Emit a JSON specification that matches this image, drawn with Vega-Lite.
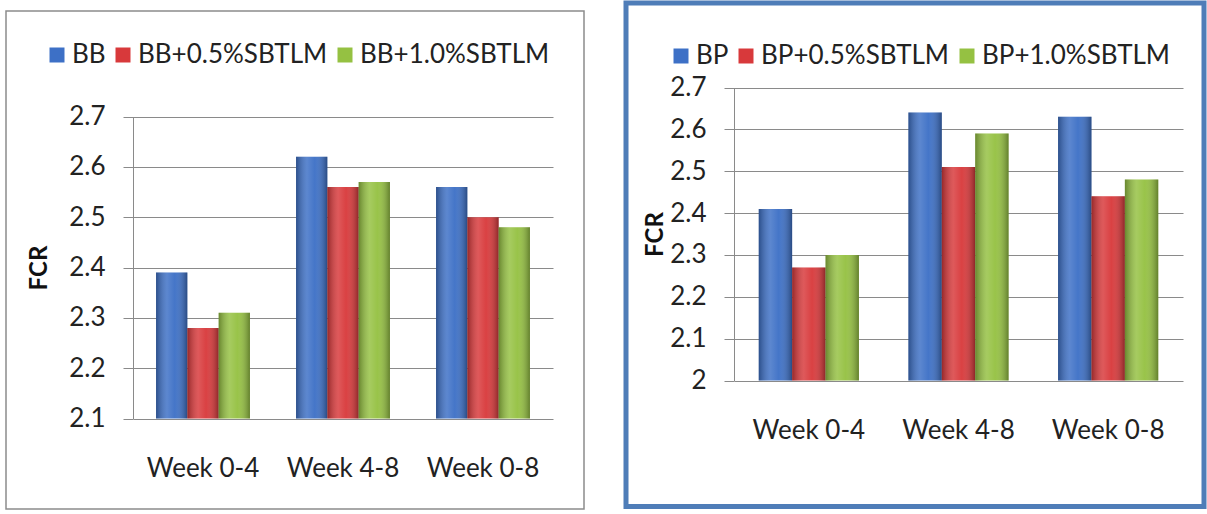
{
  "$schema": "https://vega.github.io/schema/vega-lite/v6.json",
  "padding": {"left": 5, "top": 0, "right": 0, "bottom": 0},
  "background": "white",
  "bounds": "full",
  "spacing": 38,
  "config": {
    "font": "Lato",
    "axis": {"labelFont": "Lato", "labelColor": "#222222", "titleFont": "Lato", "titleColor": "#111111"},
    "legend": {"labelFont": "Lato", "labelColor": "#222222", "labelLimit": 0}
  },
  "datasets": {
    "left": [
      {"period": "Week 0-4", "group": "BB", "fcr": 2.39},
      {"period": "Week 0-4", "group": "BB+0.5%SBTLM", "fcr": 2.28},
      {"period": "Week 0-4", "group": "BB+1.0%SBTLM", "fcr": 2.31},
      {"period": "Week 4-8", "group": "BB", "fcr": 2.62},
      {"period": "Week 4-8", "group": "BB+0.5%SBTLM", "fcr": 2.56},
      {"period": "Week 4-8", "group": "BB+1.0%SBTLM", "fcr": 2.57},
      {"period": "Week 0-8", "group": "BB", "fcr": 2.56},
      {"period": "Week 0-8", "group": "BB+0.5%SBTLM", "fcr": 2.50},
      {"period": "Week 0-8", "group": "BB+1.0%SBTLM", "fcr": 2.48}
    ],
    "right": [
      {"period": "Week 0-4", "group": "BP", "fcr": 2.41},
      {"period": "Week 0-4", "group": "BP+0.5%SBTLM", "fcr": 2.27},
      {"period": "Week 0-4", "group": "BP+1.0%SBTLM", "fcr": 2.30},
      {"period": "Week 4-8", "group": "BP", "fcr": 2.64},
      {"period": "Week 4-8", "group": "BP+0.5%SBTLM", "fcr": 2.51},
      {"period": "Week 4-8", "group": "BP+1.0%SBTLM", "fcr": 2.59},
      {"period": "Week 0-8", "group": "BP", "fcr": 2.63},
      {"period": "Week 0-8", "group": "BP+0.5%SBTLM", "fcr": 2.44},
      {"period": "Week 0-8", "group": "BP+1.0%SBTLM", "fcr": 2.48}
    ],
    "spacer": [{"a": 1}]
  },
  "resolve": {"scale": {"color": "independent", "x": "independent", "y": "independent"}, "legend": {"color": "independent"}},
  "hconcat": [
    {
      "spacing": 0,
      "bounds": "full",
      "resolve": {"scale": {"color": "independent", "x": "independent", "y": "independent"}},
      "vconcat": [
        {
          "width": 578,
          "height": 7,
          "data": {"name": "spacer"},
          "view": {"stroke": null},
          "mark": {"type": "point", "opacity": 0},
          "encoding": {}
        },
        {
          "width": 578,
          "height": 498,
          "view": {"stroke": "#8c8c8c", "strokeWidth": 1.5, "fill": "white"},
          "data": {"name": "left"},
          "encoding": {
            "x": {
              "field": "period", "type": "nominal", "sort": ["Week 0-4", "Week 4-8", "Week 0-8"],
              "scale": {"range": [127, 547], "paddingInner": 0.33, "paddingOuter": 0.165},
              "axis": {"orient": "bottom", "offset": -90.5, "domain": false, "ticks": false, "labelPadding": 37, "labelFontSize": 26, "labelAngle": 0, "title": null, "grid": false}
            },
            "y": {
              "field": "fcr", "type": "quantitative",
              "scale": {"domain": [2.1, 2.7], "range": [407.5, 105.5], "zero": false, "nice": false},
              "axis": {
                "values": [2.1, 2.2, 2.3, 2.4, 2.5, 2.6, 2.7], "format": "~g", "offset": -127,
                "grid": true, "gridColor": "#8a8a8a", "gridWidth": 1, "gridOpacity": 1,
                "domainColor": "#8a8a8a", "tickColor": "#8a8a8a", "tickSize": 10,
                "labelPadding": 18, "labelFontSize": 26,
                "title": "FCR", "titleFontSize": 24, "titleFontWeight": "bold", "titlePadding": 17
              }
            },
            "y2": {"datum": 2.1},
            "color": {
              "field": "group", "type": "nominal",
              "scale": {"domain": ["BB", "BB+0.5%SBTLM", "BB+1.0%SBTLM"], "range": ["#3D70C6", "#D8393B", "#95C142"]},
              "legend": {"orient": "none", "legendX": 38, "legendY": 31, "direction": "horizontal", "title": null, "symbolType": "square", "symbolSize": 225, "symbolStrokeWidth": 0, "symbolOpacity": 1, "labelFontSize": 26, "labelOffset": 2, "columnPadding": 4, "padding": 0, "labelLimit": 0}
            }
          },
          "layer": [
            {"transform": [{"filter": "datum.group === 'BB'"}], "mark": {"type": "bar", "clip": false, "width": 31.3, "xOffset": -31.3}},
            {"transform": [{"filter": "datum.group === 'BB+0.5%SBTLM'"}], "mark": {"type": "bar", "clip": false, "width": 31.3, "xOffset": 0}},
            {"transform": [{"filter": "datum.group === 'BB+1.0%SBTLM'"}], "mark": {"type": "bar", "clip": false, "width": 31.3, "xOffset": 31.3}},
            {"transform": [{"filter": "datum.group === 'BB'"}], "encoding": {"color": {"value": null}}, "mark": {"type": "bar", "clip": false, "width": 31.3, "xOffset": -31.3, "fill": {"gradient": "linear", "x1": 0, "y1": 0, "x2": 1, "y2": 0, "stops": [{"offset": 0, "color": "rgba(0,0,0,0.3)"}, {"offset": 0.35, "color": "rgba(255,255,255,0.16)"}, {"offset": 0.6, "color": "rgba(255,255,255,0.04)"}, {"offset": 1, "color": "rgba(0,0,0,0.34)"}]}}},
            {"transform": [{"filter": "datum.group === 'BB+0.5%SBTLM'"}], "encoding": {"color": {"value": null}}, "mark": {"type": "bar", "clip": false, "width": 31.3, "xOffset": 0, "fill": {"gradient": "linear", "x1": 0, "y1": 0, "x2": 1, "y2": 0, "stops": [{"offset": 0, "color": "rgba(0,0,0,0.3)"}, {"offset": 0.35, "color": "rgba(255,255,255,0.16)"}, {"offset": 0.6, "color": "rgba(255,255,255,0.04)"}, {"offset": 1, "color": "rgba(0,0,0,0.34)"}]}}},
            {"transform": [{"filter": "datum.group === 'BB+1.0%SBTLM'"}], "encoding": {"color": {"value": null}}, "mark": {"type": "bar", "clip": false, "width": 31.3, "xOffset": 31.3, "fill": {"gradient": "linear", "x1": 0, "y1": 0, "x2": 1, "y2": 0, "stops": [{"offset": 0, "color": "rgba(0,0,0,0.3)"}, {"offset": 0.35, "color": "rgba(255,255,255,0.16)"}, {"offset": 0.6, "color": "rgba(255,255,255,0.04)"}, {"offset": 1, "color": "rgba(0,0,0,0.34)"}]}}}
          ]
        }
      ]
    },
    {
      "width": 578,
      "height": 503.5,
      "view": {"stroke": "#4F7DB8", "strokeWidth": 5, "fill": "white"},
      "data": {"name": "right"},
      "encoding": {
        "x": {
          "field": "period", "type": "nominal", "sort": ["Week 0-4", "Week 4-8", "Week 0-8"],
          "scale": {"range": [108, 557], "paddingInner": 0.33, "paddingOuter": 0.165},
          "axis": {"orient": "bottom", "offset": -126, "domain": false, "ticks": false, "labelPadding": 37, "labelFontSize": 26, "labelAngle": 0, "title": null, "grid": false}
        },
        "y": {
          "field": "fcr", "type": "quantitative",
          "scale": {"domain": [2, 2.7], "range": [377.5, 84.5], "zero": false, "nice": false},
          "axis": {
            "values": [2, 2.1, 2.2, 2.3, 2.4, 2.5, 2.6, 2.7], "format": "~g", "offset": -108,
            "grid": true, "gridColor": "#8a8a8a", "gridWidth": 1, "gridOpacity": 1,
            "domainColor": "#8a8a8a", "tickColor": "#8a8a8a", "tickSize": 10,
            "labelPadding": 18, "labelFontSize": 26,
            "title": "FCR", "titleFontSize": 24, "titleFontWeight": "bold", "titlePadding": 2
          }
        },
        "y2": {"datum": 2},
        "color": {
          "field": "group", "type": "nominal",
          "scale": {"domain": ["BP", "BP+0.5%SBTLM", "BP+1.0%SBTLM"], "range": ["#3D70C6", "#D8393B", "#95C142"]},
          "legend": {"orient": "none", "legendX": 42, "legendY": 40, "direction": "horizontal", "title": null, "symbolType": "square", "symbolSize": 225, "symbolStrokeWidth": 0, "symbolOpacity": 1, "labelFontSize": 26, "labelOffset": 2, "columnPadding": 4, "padding": 0, "labelLimit": 0}
        }
      },
      "layer": [
        {"transform": [{"filter": "datum.group === 'BP'"}], "mark": {"type": "bar", "clip": false, "width": 33.4, "xOffset": -33.4}},
        {"transform": [{"filter": "datum.group === 'BP+0.5%SBTLM'"}], "mark": {"type": "bar", "clip": false, "width": 33.4, "xOffset": 0}},
        {"transform": [{"filter": "datum.group === 'BP+1.0%SBTLM'"}], "mark": {"type": "bar", "clip": false, "width": 33.4, "xOffset": 33.4}},
        {"transform": [{"filter": "datum.group === 'BP'"}], "encoding": {"color": {"value": null}}, "mark": {"type": "bar", "clip": false, "width": 33.4, "xOffset": -33.4, "fill": {"gradient": "linear", "x1": 0, "y1": 0, "x2": 1, "y2": 0, "stops": [{"offset": 0, "color": "rgba(0,0,0,0.3)"}, {"offset": 0.35, "color": "rgba(255,255,255,0.16)"}, {"offset": 0.6, "color": "rgba(255,255,255,0.04)"}, {"offset": 1, "color": "rgba(0,0,0,0.34)"}]}}},
        {"transform": [{"filter": "datum.group === 'BP+0.5%SBTLM'"}], "encoding": {"color": {"value": null}}, "mark": {"type": "bar", "clip": false, "width": 33.4, "xOffset": 0, "fill": {"gradient": "linear", "x1": 0, "y1": 0, "x2": 1, "y2": 0, "stops": [{"offset": 0, "color": "rgba(0,0,0,0.3)"}, {"offset": 0.35, "color": "rgba(255,255,255,0.16)"}, {"offset": 0.6, "color": "rgba(255,255,255,0.04)"}, {"offset": 1, "color": "rgba(0,0,0,0.34)"}]}}},
        {"transform": [{"filter": "datum.group === 'BP+1.0%SBTLM'"}], "encoding": {"color": {"value": null}}, "mark": {"type": "bar", "clip": false, "width": 33.4, "xOffset": 33.4, "fill": {"gradient": "linear", "x1": 0, "y1": 0, "x2": 1, "y2": 0, "stops": [{"offset": 0, "color": "rgba(0,0,0,0.3)"}, {"offset": 0.35, "color": "rgba(255,255,255,0.16)"}, {"offset": 0.6, "color": "rgba(255,255,255,0.04)"}, {"offset": 1, "color": "rgba(0,0,0,0.34)"}]}}}
      ]
    }
  ]
}
